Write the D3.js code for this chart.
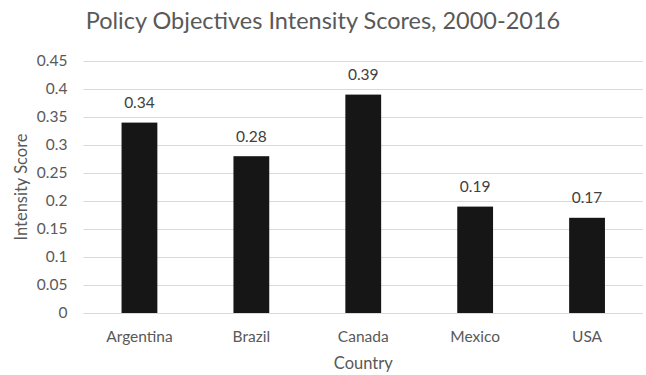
<!DOCTYPE html>
<html>
<head>
<meta charset="utf-8">
<script src="https://cdn.jsdelivr.net/npm/d3@7"></script>
<style>
  html, body { margin: 0; padding: 0; background: #fff; }
  svg { display: block; font-family: Lato, "Open Sans", sans-serif; }
</style>
</head>
<body>
<svg id="chart" width="646" height="375"></svg>
<script>
const countries = ["Argentina", "Brazil", "Canada", "Mexico", "USA"];
const scores = [0.34, 0.28, 0.39, 0.19, 0.17];
const yTicks = [0, 0.05, 0.1, 0.15, 0.2, 0.25, 0.3, 0.35, 0.4, 0.45];

const svg = d3.select("#chart");
const margin = { left: 83.5, right: 3, top: 61, bottom: 62 };
const W = 646, H = 375;
const font = "Lato";
const textColor = "#595959";

const x = d3.scaleBand().domain(countries)
  .range([margin.left, W - margin.right]).paddingInner(0.68).paddingOuter(0.34);
const y = d3.scaleLinear().domain([0, 0.45]).range([H - margin.bottom, margin.top]);

// horizontal gridlines
svg.append("g").selectAll("line").data(yTicks).join("line")
  .attr("x1", margin.left).attr("x2", W - margin.right)
  .attr("y1", d => Math.round(y(d)) + 0.5).attr("y2", d => Math.round(y(d)) + 0.5)
  .attr("stroke", "#d9d9d9").attr("stroke-width", 1);

// y axis tick labels
const yAxis = d3.axisLeft(y).tickValues(yTicks).tickSize(0).tickPadding(0)
  .tickFormat(d => d3.format("~g")(d));
svg.append("g").attr("transform", `translate(${margin.left - 16},0)`).call(yAxis)
  .call(g => g.select(".domain").remove())
  .call(g => g.selectAll("text").attr("fill", textColor).attr("font-size", 15.5)
    .attr("font-family", font));

// bars
svg.append("g").selectAll("rect").data(countries).join("rect")
  .attr("x", d => x(d)).attr("width", x.bandwidth())
  .attr("y", (d, i) => y(scores[i]))
  .attr("height", (d, i) => y(0) - y(scores[i]))
  .attr("fill", "#161616");

// value labels
svg.append("g").selectAll("text").data(countries).join("text")
  .attr("x", d => x(d) + x.bandwidth() / 2)
  .attr("y", (d, i) => y(scores[i]) - 14.5)
  .attr("text-anchor", "middle").attr("fill", "#404040").attr("font-size", 15.5)
  .text((d, i) => scores[i]);

// x axis labels
const xAxis = d3.axisBottom(x).tickSize(0).tickPadding(0);
svg.append("g").attr("transform", `translate(0,331)`).call(xAxis)
  .call(g => g.select(".domain").remove())
  .call(g => g.selectAll("text").attr("fill", textColor).attr("font-size", 15.5)
    .attr("font-family", font));

// axis titles
svg.append("text").attr("x", (margin.left + W - margin.right) / 2).attr("y", 369)
  .attr("text-anchor", "middle").attr("fill", textColor).attr("font-size", 16.5)
  .text("Country");
svg.append("text").attr("transform", "translate(27,187) rotate(-90)")
  .attr("text-anchor", "middle").attr("fill", textColor).attr("font-size", 16.5)
  .text("Intensity Score");

// chart title
svg.append("text").attr("x", W / 2).attr("y", 29)
  .attr("text-anchor", "middle")
  .attr("fill", textColor).attr("font-size", 23.5)
  .text("Policy Objectives Intensity Scores, 2000-2016");
</script>
</body>
</html>
